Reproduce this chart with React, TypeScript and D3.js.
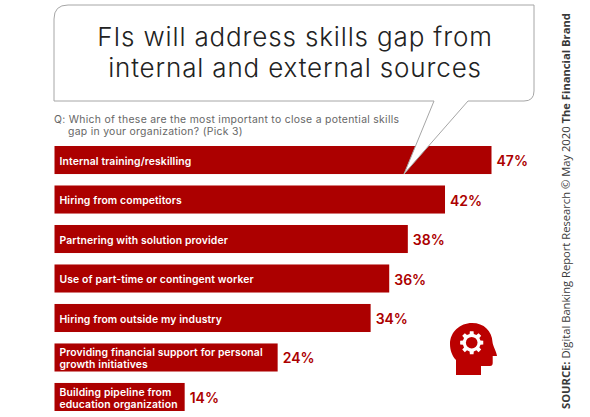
import React from "react";
import * as d3 from "d3";

const categories = [
  ["Internal training/reskilling"],
  ["Hiring from competitors"],
  ["Partnering with solution provider"],
  ["Use of part-time or contingent worker"],
  ["Hiring from outside my industry"],
  ["Providing financial support for personal", "growth initiatives"],
  ["Building pipeline from", "education organization"],
];
const values = [47, 42, 38, 36, 34, 24, 14];
const titleLines = ["FIs will address skills gap from", "internal and external sources"];
const questionLines = ["Q: Which of these are the most important to close a potential skills", "gap in your organization? (Pick 3)"];

const RED = "#ac0000";
const FONT = "Inter, 'Open Sans', sans-serif";

const x = d3.scaleLinear().domain([0, 47]).range([54.5, 491.5]);
const y = d3.scaleBand<number>().domain(d3.range(values.length)).range([146, 411]).paddingInner(0.29).paddingOuter(0);

function gearPath(cx: number, cy: number, rOut: number, rIn: number, teeth: number) {
  const pts: [number, number][] = [];
  const step = (Math.PI * 2) / teeth;
  for (let i = 0; i < teeth; i++) {
    const a = i * step;
    const w = step * 0.2;
    const w2 = step * 0.3;
    pts.push([a - w2, rIn], [a - w, rOut], [a + w, rOut], [a + w2, rIn]);
  }
  const line = d3.lineRadial().curve(d3.curveLinearClosed);
  return { d: line(pts) as string, transform: `translate(${cx},${cy})` };
}

export default function App() {
  const gear = gearPath(471.7, 342.7, 11.7, 9, 8);
  return (
    <svg width={590} height={417} style={{ position: "absolute", left: 0, top: 0, background: "#fff" }}>
      {values.map((v, i) => {
        const lines = categories[i];
        const by = y(i)!;
        const bh = y.bandwidth();
        const cy = by + bh / 2;
        return (
          <g key={i}>
            <rect x={x(0)} y={by} width={x(v) - x(0)} height={bh} fill={RED} />
            {lines.map((l, j) => (
              <text key={j} x={59.5} y={cy + 4.8 + (j - (lines.length - 1) / 2) * 11.7} fill="#fff" fontFamily={FONT} fontSize={10.4} fontWeight={600} letterSpacing={0.12}>
                {l}
              </text>
            ))}
            <text x={x(v) + 5} y={cy + 6} fill={RED} fontFamily={FONT} fontSize={14} fontWeight={600}>
              {v}%
            </text>
          </g>
        );
      })}
      <path
        d="M68,5 H534 V91 Q534,101 524,101 H468 L404,174 L434,101 H54 V19 Q54,5 68,5 Z"
        fill="#fff"
        stroke="#a6a6a6"
        strokeWidth={1}
      />
      {titleLines.map((l, i) => (
        <text key={i} x={295} y={46 + i * 31} textAnchor="middle" fill="#222" fontFamily={FONT} fontSize={26} fontWeight={300} letterSpacing={0.85}>
          {l}
        </text>
      ))}
      {questionLines.map((l, i) => (
        <text key={i} x={i === 0 ? 54 : 68} y={123 + i * 11.8} fill="#666" fontFamily={FONT} fontSize={10.4} letterSpacing={0.3}>
          {l}
        </text>
      ))}
      <g transform="translate(570,409) rotate(-90)" fontFamily="'Open Sans', sans-serif" fontSize={11.2} fill="#3a3a3a">
        <text>
          <tspan fontWeight={700}>SOURCE:</tspan>
          <tspan> Digital Banking Report Research © May 2020 </tspan>
          <tspan fontWeight={700}>The Financial Brand</tspan>
        </text>
      </g>
      <path
        d="M456,375 V360 C452,356 450,350 450,344 C450,332 460,323 472,323 C484,323 492,331 492.5,342 C492.5,345 497,353 497,356 H492.7 V363 Q492.7,366 490,366 H481 V375 Z"
        fill="#bb0000"
      />
      <path d={gear.d} transform={gear.transform} fill="#fff" />
      <circle cx={471.7} cy={342.7} r={5.8} fill="#bb0000" />
    </svg>
  );
}
